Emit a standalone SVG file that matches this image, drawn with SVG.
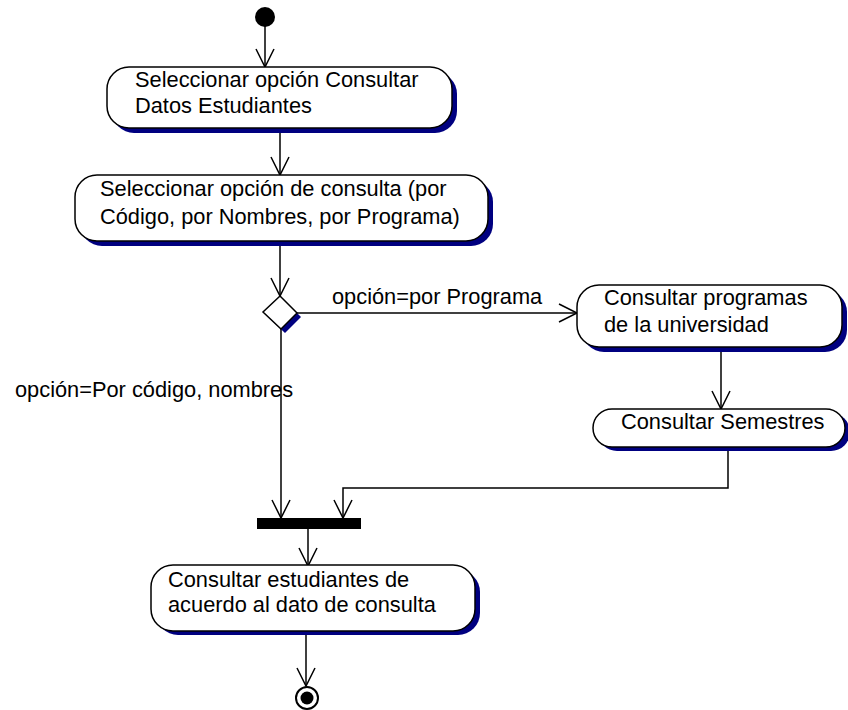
<svg xmlns="http://www.w3.org/2000/svg" width="848" height="710" viewBox="0 0 848 710">
<defs>
<style>
.txt{font-family:"Liberation Sans",Arial,sans-serif;font-size:21.8px;fill:#000}
.act{fill:#fff;stroke:#000;stroke-width:1.5}
.shadow{fill:#000080}
.conn{fill:none;stroke:#000;stroke-width:1.5}
</style>
<marker id="arr" markerUnits="userSpaceOnUse" markerWidth="22" markerHeight="22" viewBox="-1 -1 22 22" refX="18" refY="9" orient="auto">
<path d="M0,0 L18,9 L0,18" fill="none" stroke="#000" stroke-width="1.5"/>
</marker>
</defs>
<rect width="848" height="710" fill="#fff"/>
<g id="connectors">
<line class="conn" x1="265" y1="26" x2="265" y2="67" marker-end="url(#arr)"/>
<line class="conn" x1="280" y1="133" x2="280" y2="175" marker-end="url(#arr)"/>
<line class="conn" x1="280" y1="246" x2="280" y2="296" marker-end="url(#arr)"/>
<line class="conn" x1="297" y1="313" x2="577" y2="313" marker-end="url(#arr)"/>
<text class="txt" x="332" y="304">opción=por Programa</text>
<line class="conn" x1="281" y1="328" x2="281" y2="518" marker-end="url(#arr)"/>
<text class="txt" x="15" y="397">opción=Por código, nombres</text>
<line class="conn" x1="721" y1="352" x2="721" y2="409" marker-end="url(#arr)"/>
<polyline class="conn" points="728,451 728,488 343,488 343,518" marker-end="url(#arr)"/>
<line class="conn" x1="308" y1="529" x2="308" y2="566" marker-end="url(#arr)"/>
<line class="conn" x1="306" y1="635" x2="306" y2="686" marker-end="url(#arr)"/>
</g>
<g id="start">
<circle cx="265" cy="17" r="10" fill="#000"/>
</g>
<g id="act1">
<rect class="shadow" x="112" y="72" width="345" height="61" rx="22"/>
<rect class="act" x="107" y="67" width="345" height="61" rx="22"/>
<text class="txt" x="135" y="87">Seleccionar opción Consultar</text>
<text class="txt" x="135" y="113">Datos Estudiantes</text>
</g>
<g id="act2">
<rect class="shadow" x="80" y="180" width="413" height="66" rx="22"/>
<rect class="act" x="75" y="175" width="413" height="66" rx="22"/>
<text class="txt" x="100" y="196">Seleccionar opción de consulta (por</text>
<text class="txt" x="100" y="224">Código, por Nombres, por Programa)</text>
</g>
<g id="decision">
<polygon points="280,296 297,313 281,329 263,312" fill="#000080" transform="translate(4,4)"/>
<polygon points="280,296 297,313 281,329 263,312" fill="#fff" stroke="#000" stroke-width="1.5"/>
</g>
<g id="act3">
<rect class="shadow" x="582" y="290" width="265" height="62" rx="22"/>
<rect class="act" x="577" y="285" width="265" height="62" rx="22"/>
<text class="txt" x="604" y="305">Consultar programas</text>
<text class="txt" x="604" y="332">de la universidad</text>
</g>
<g id="act4">
<rect class="shadow" x="598" y="413" width="252" height="38" rx="19"/>
<rect class="act" x="593" y="409" width="252" height="38" rx="19"/>
<text class="txt" x="621" y="429">Consultar Semestres</text>
</g>
<g id="join">
<rect x="257" y="518" width="104" height="11" fill="#000"/>
</g>
<g id="act5">
<rect class="shadow" x="156" y="570" width="324" height="65" rx="22"/>
<rect class="act" x="151" y="565" width="324" height="66" rx="22"/>
<text class="txt" x="168" y="587">Consultar estudiantes de</text>
<text class="txt" x="168" y="612">acuerdo al dato de consulta</text>
</g>
<g id="end">
<circle cx="307" cy="698" r="11" fill="#fff" stroke="#000" stroke-width="2"/>
<circle cx="307" cy="698" r="6.5" fill="#000"/>
</g>
</svg>
